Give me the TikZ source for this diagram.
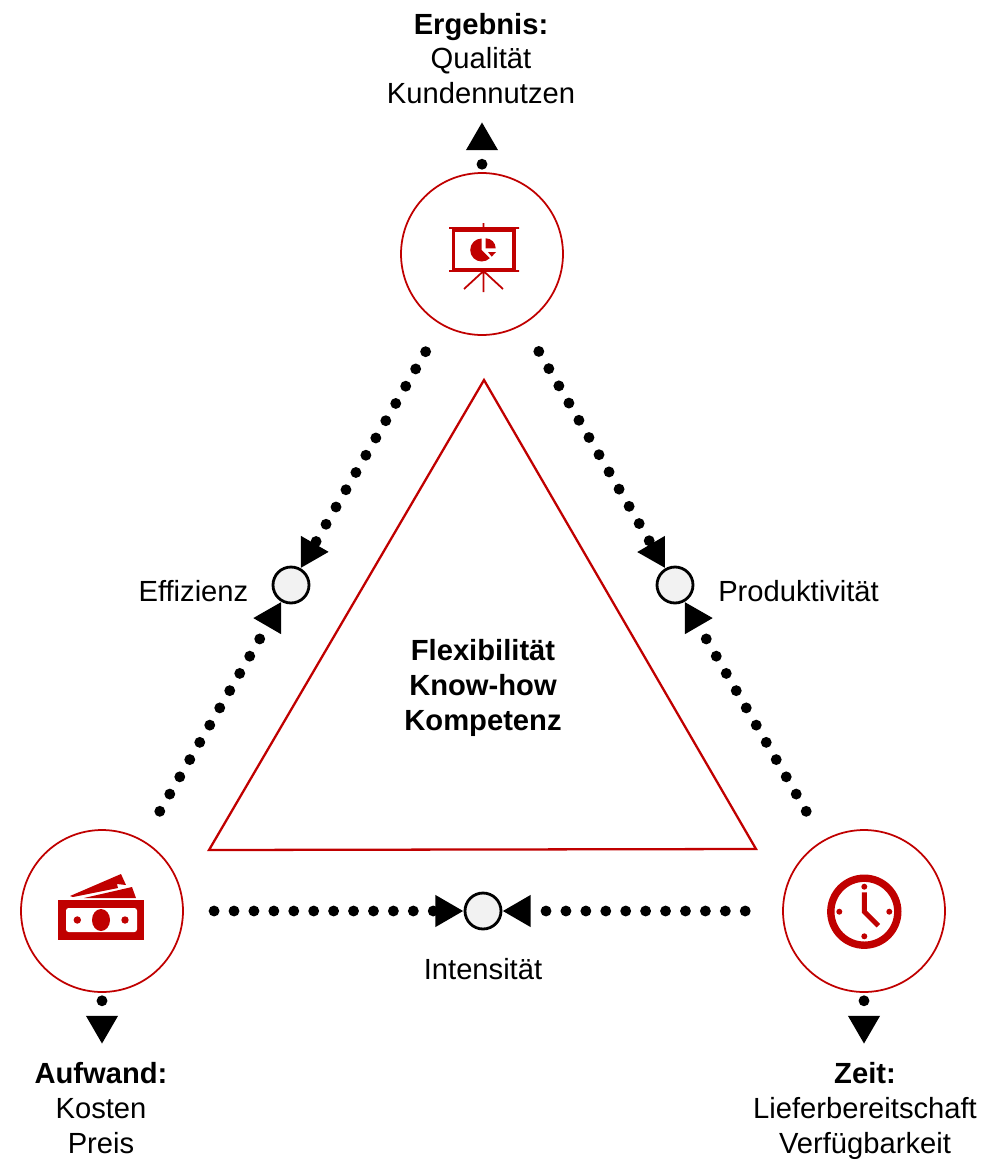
\documentclass[tikz,border=0pt]{standalone}
\usepackage{fontspec}
\setmainfont{Liberation Sans}
\usetikzlibrary{arrows.meta, positioning}
\definecolor{darkred}{HTML}{C00000}
\definecolor{lightgray}{HTML}{F2F2F2}
\tikzset{
>={Triangle[length=16pt, width=17pt]}, % the big black arrow heads
every node/.style={font=\fontsize{16.6}{19.84}\selectfont, align=center, inner sep=0pt},
corner/.style={circle, draw=darkred, line width=1pt, minimum size=3.24cm}, % the three big circles
meeting/.style={circle, draw=black, line width=1.6pt, fill=lightgray, minimum size=0.72cm}, % the small circles
dotline/.style={->, line width=6.2pt, line cap=round, dash pattern=on 0pt off 11.34pt, shorten <=17.6pt}, % the dotted connectors
stub/.style={->, line width=6.2pt, line cap=round, dash pattern=on 0pt off 11.34pt, shorten <=4.5pt}, % the short ones to the texts
}

\begin{document}
\begin{tikzpicture}[x=0.02cm, y=-0.02cm]
        \useasboundingbox (0,0) rectangle (987,1163);

        \node[corner] (result) at (482,254) {};
        \node[corner] (effort) at (102,911) {};
        \node[corner] (time) at (864,911) {};
        \node[meeting] (efficiency) at (291,585) {};
        \node[meeting] (productivity) at (675,585) {};
        \node[meeting] (intensity) at (483,911) {};

        \node (resulttext) at (481,58.5) {\textbf{Ergebnis:}\\Qualität\\Kundennutzen};
        \node (efforttext) at (101,1108) {\textbf{Aufwand:}\\Kosten\\Preis};
        \node (timetext) at (865,1111) {\textbf{Zeit:}\\Lieferbereitschaft\\Verfügbarkeit};
        \node[left = 0.46cm of efficiency, yshift=-0.12cm] (efficiencytext) {Effizienz};
        \node[right = 0.47cm of productivity, yshift=-0.12cm] (productivitytext) {Produktivität};
        \node[below = 0.55cm of intensity] (intensitytext) {Intensität};
        \node (centertext) at (483,688) {\textbf{Flexibilität}\\\textbf{Know-how}\\\textbf{Kompetenz}};

        \coordinate (resultend) at (482,122);
        \coordinate (effortend) at (102,1044);
        \coordinate (timeend) at (864,1044);

        \draw[line width=1.3pt, draw=darkred] (484,380) -- (756,849) -- (209,850) -- cycle;

        \draw[dotline]
        (result) edge (efficiency)
        (effort) edge[shorten <=19pt] (efficiency)
        (result) edge (productivity)
        (time) edge[shorten <=19pt] (productivity)
        (effort) edge[shorten <=17.2pt] (intensity)
        (time) edge[shorten <=21pt] (intensity);

        \draw[stub]
        (result) edge (resultend)
        (effort) edge (effortend)
        (time) edge (timeend);

        % presentation
        \draw[darkred, line width=2pt] (453.5,230) rectangle (514,269.5);
        \draw[darkred, line width=1pt]
        (449,228) -- (519,228)
        (449,271) -- (519,271)
        (483.5,223) -- (483.5,228)
        (483.5,271) -- (464,289)
        (483.5,271) -- (503,289)
        (483.5,271) -- (483.5,292);
        \fill[darkred] (481.7,250) -- +(-90:11.5) arc (-90:-315:11.5) -- cycle;
        \fill[darkred] (485.7,238.3) arc (-90:0:10) -- (491,248.3) -- (485.7,248.3) -- cycle;
        \fill[darkred] (488,252) -- (496,252) -- (491.7,256.7) -- cycle;

        % money
        \fill[darkred] (70,896) -- (121,874) -- (126,885) -- (117,884) -- (118,888) -- (73,897) -- cycle;
        \fill[darkred] (84,898) -- (132,887) -- (136,898) -- cycle;
        \fill[darkred] (58,900) rectangle (144,940);
        \fill[white, rounded corners=1.5pt] (66,908) rectangle (137,932);
        \fill[darkred] (101,920) ellipse (9 and 11);
        \fill[darkred] (77.3,920) circle (3.7);
        \fill[darkred] (125,920) circle (3.7);

        % clock
        \draw[darkred, line width=4.2pt] (864.3,911.7) circle (33.5);
        \fill[darkred] (864.3,886.7) circle (3);
        \fill[darkred] (839.3,911.7) circle (3);
        \fill[darkred] (889.3,911.7) circle (3);
        \fill[darkred] (864.3,936.3) circle (3);
        \draw[darkred, line width=2.8pt] (864.3,892.3) -- (864.3,911.7) -- (878.3,925.7);
\end{tikzpicture}
\end{document}
